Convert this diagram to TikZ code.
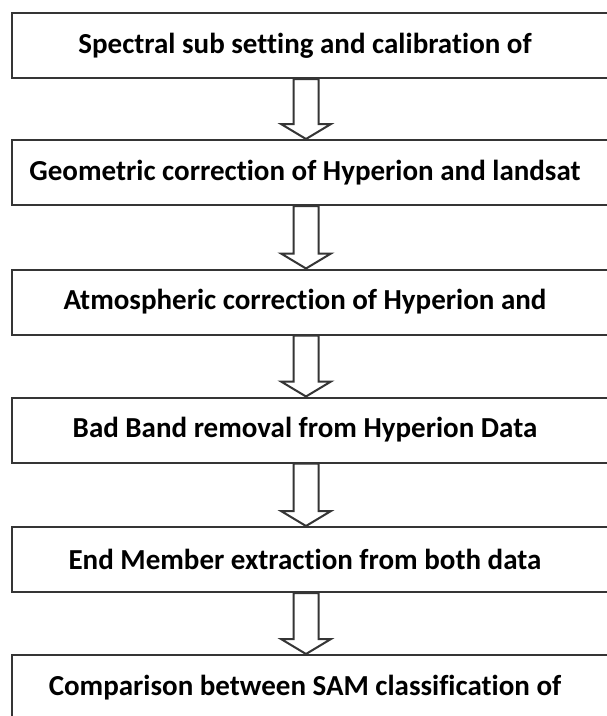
\documentclass[tikz,border=0pt]{standalone}
\usepackage{fontspec}
\setmainfont{Carlito}[Ligatures=NoCommon]
\usetikzlibrary{calc}
\definecolor{boxgray}{HTML}{353535}
\begin{document}
\begin{tikzpicture}[x=1pt,y=1pt,
  stepbox/.style={draw=boxgray, line width=2pt, minimum width=602pt, minimum height=65pt,
    inner sep=0pt, font=\fontsize{29}{34}\selectfont\bfseries},
  hollowarrow/.style={draw=boxgray, line width=2pt, fill=white, line join=miter}]
\useasboundingbox (0,0) rectangle (607,-716);
\clip (0,0) rectangle (607,-716);
\fill[white] (0,0) rectangle (607,-716);
\node[stepbox] (b1) at (313,-45.5) {\hspace*{-16pt}Spectral sub setting and calibration of};
\node[stepbox] (b2) at (313,-172.5) {\hspace*{-16pt}Geometric correction of Hyperion and landsat};
\node[stepbox] (b3) at (313,-302) {\hspace*{-16pt}Atmospheric correction of Hyperion and};
\node[stepbox] (b4) at (313,-430) {\hspace*{-16pt}Bad Band removal from Hyperion Data};
\node[stepbox] (b5) at (313,-559.5) {\hspace*{-16pt}End Member extraction from both data};
\node[stepbox] (b6) at (313,-687.5) {\hspace*{-16pt}Comparison between SAM classification of};
\foreach \a/\b in {b1/b2,b2/b3,b3/b4,b4/b5,b5/b6}
  \draw[hollowarrow] ($(\a.south)+(-19.5,0)$) -- ($(\b.north)+(-19.5,15)$)
    -- ($(\b.north)+(-32,15)$) -- ($(\b.north)+(-7,0)$) -- ($(\b.north)+(18,15)$)
    -- ($(\b.north)+(5.5,15)$) -- ($(\a.south)+(5.5,0)$) -- cycle;
\end{tikzpicture}
\end{document}
